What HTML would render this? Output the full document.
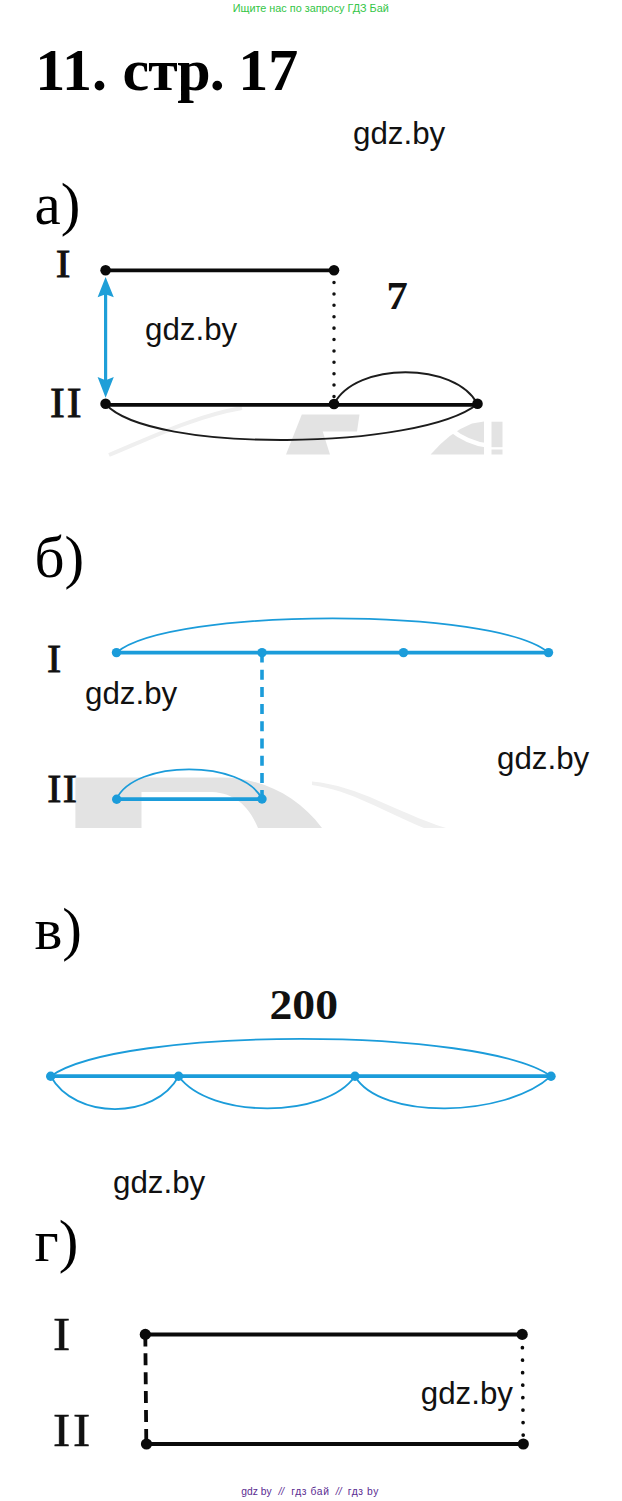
<!DOCTYPE html>
<html><head><meta charset="utf-8">
<style>
html,body{margin:0;padding:0;background:#fff;}
body{width:622px;height:1501px;position:relative;overflow:hidden;font-family:"Liberation Sans",sans-serif;}
.t{position:absolute;white-space:nowrap;line-height:1;margin:0;}
.hdr{font-size:10.85px;color:#33c546;left:232.7px;top:2.6px;}
.ftr{font-size:10.3px;color:#5a2b91;top:1486.5px;}
.h1{font-family:"Liberation Serif",serif;font-weight:bold;font-size:60px;color:#000;left:36px;top:39.5px;}
.sec{font-family:"Liberation Serif",serif;font-size:59px;color:#000;left:34.5px;}
.wm{font-size:31.3px;color:#111;}
svg{position:absolute;left:0;top:0;}
.lb{font-family:"Liberation Serif",serif;font-weight:bold;fill:#111;}
.ls{font-family:"Liberation Serif",serif;fill:#111;stroke:#111;stroke-width:0.85px;}
</style></head><body>
<div class="t hdr">Ищите нас по запросу ГДЗ Бай</div>
<div class="t h1" style="left:35.2px;">11.</div><div class="t h1" style="left:122.5px;letter-spacing:-1px;">стр.</div><div class="t h1" style="left:238.3px;">17</div>
<div class="t wm" style="left:353px;top:118px;">gdz.by</div>
<div class="t sec" style="top:174.6px;">а)</div>
<div class="t sec" style="top:527.5px;">б)</div>
<div class="t sec" style="top:899.5px;">в)</div>
<div class="t sec" style="top:1211.5px;">г)</div>
<div class="t wm" style="left:145px;top:314px;">gdz.by</div>
<div class="t wm" style="left:85px;top:678px;">gdz.by</div>
<div class="t wm" style="left:497px;top:743px;">gdz.by</div>
<div class="t wm" style="left:113px;top:1167px;">gdz.by</div>
<div class="t wm" style="left:420.8px;top:1378px;">gdz.by</div>
<div class="t ftr" style="left:241.2px">gdz by</div><div class="t ftr" style="left:278.4px;font-style:italic">//</div><div class="t ftr" style="left:291.3px;letter-spacing:0.6px">гдз бай</div><div class="t ftr" style="left:335.8px;font-style:italic">//</div><div class="t ftr" style="left:347.8px;letter-spacing:0.55px">гдз by</div>
<svg width="622" height="1501" viewBox="0 0 622 1501">
<!-- A -->
<g id="A">
<!-- watermark -->
<path d="M109 455 C150 438 195 416 242 408" fill="none" stroke="#efefef" stroke-width="4"/>
<g fill="#e3e3e3">
<path d="M286 454.5 L301.8 414.6 L359.5 414.6 L357 431.4 L322.7 431.4 L330 454.5 Z"/>
<path d="M430.6 454.5 Q450 432 472 423.5 L484 421.5 L484 454.5 Z"/>
<rect x="491.5" y="421.7" width="11" height="25.5"/>
<rect x="491.5" y="449.5" width="11" height="5"/>
</g>
<path d="M450 429 Q468 443.5 488 445.5" fill="none" stroke="#fff" stroke-width="4.5"/>
<path d="M105.5 404 C150 454 420 450 477.5 404" fill="none" stroke="#1c1c1c" stroke-width="1.9"/>
<path d="M334 404 C356 361.6 455 361.6 477.5 404" fill="none" stroke="#1c1c1c" stroke-width="1.9"/>
<line x1="105.5" y1="270.4" x2="334" y2="270.4" stroke="#0a0a0a" stroke-width="3.8"/>
<line x1="105.5" y1="404.8" x2="477.5" y2="404.8" stroke="#0a0a0a" stroke-width="3.8"/>
<line x1="334" y1="282.6" x2="334" y2="398" stroke="#111" stroke-width="3.5" stroke-linecap="round" stroke-dasharray="0.01 11.37" />
<line x1="105.6" y1="290" x2="105.6" y2="385" stroke="#1f9fd8" stroke-width="3.2"/>
<path d="M105.6 277 L113.8 297.3 L105.6 294.2 L97.6 297.3 Z" fill="#1f9fd8"/>
<path d="M105.6 397.8 L113.8 377 L105.6 380.2 L97.6 377 Z" fill="#1f9fd8"/>
<circle cx="105.6" cy="270.3" r="5.3" fill="#0a0a0a"/>
<circle cx="334" cy="270.3" r="5.3" fill="#0a0a0a"/>
<circle cx="105.6" cy="403.8" r="5.3" fill="#0a0a0a"/>
<circle cx="334" cy="404" r="5.3" fill="#0a0a0a"/>
<circle cx="477.5" cy="403.8" r="5.3" fill="#0a0a0a"/>
<text class="ls" transform="translate(55.8 276.8) scale(1.08 1)" font-size="40.9">I</text>
<text class="ls" transform="translate(49.9 417.2) scale(1.08 1)" font-size="41.2" letter-spacing="2">II</text>
<text class="lb" transform="translate(386.6 309) scale(1.04 1)" font-size="41">7</text>
</g>
<g id="B">
<!-- watermark -->
<path d="M75.4 828 L75.4 777.6 L222 777.6 C262 778 298 796 322 828 L258 828 C250 808 236 793 212 792 L141.5 792 L141.5 828 Z" fill="#e3e3e3"/>
<path d="M312 781.5 C360 786 395 812 446 828 L424 828 C385 812 350 790 312 785 Z" fill="#f0f0f0"/>
<path d="M116.5 652.6 C170 607 495 607 548.5 652.6" fill="none" stroke="#1b9cda" stroke-width="1.8"/>
<path d="M116.5 799 C135 759.5 243 759.5 262 799" fill="none" stroke="#1b9cda" stroke-width="1.8"/>
<line x1="116.5" y1="652.7" x2="548.5" y2="652.7" stroke="#1b9cda" stroke-width="3.7"/>
<line x1="116.5" y1="799.1" x2="262" y2="799.1" stroke="#1b9cda" stroke-width="3.7"/>
<line x1="262" y1="652.5" x2="262" y2="799" stroke="#1b9cda" stroke-width="3.6" stroke-dasharray="10 7.2"/>
<circle cx="116.5" cy="652.6" r="4.7" fill="#1b9cda"/>
<circle cx="262" cy="652.6" r="4.7" fill="#1b9cda"/>
<circle cx="403.5" cy="652.6" r="4.7" fill="#1b9cda"/>
<circle cx="548.5" cy="652.6" r="4.7" fill="#1b9cda"/>
<circle cx="116.7" cy="799.2" r="4.7" fill="#1b9cda"/>
<circle cx="262" cy="799" r="4.7" fill="#1b9cda"/>
<text class="ls" transform="translate(47.1 671.9) scale(1.08 1)" font-size="39.5">I</text>
<text class="ls" transform="translate(47.2 801.5) scale(1.08 1)" font-size="39.3" letter-spacing="1.3">II</text>
</g>
<g id="C">
<path d="M50.7 1076.2 C120 1026.5 482 1026.5 551 1076.2" fill="none" stroke="#1b9cda" stroke-width="1.8"/>
<path d="M50.7 1076.2 C75 1120 155 1120 178.6 1076.2" fill="none" stroke="#1b9cda" stroke-width="1.8"/>
<path d="M178.6 1076.2 C210 1119 325 1119 355 1076.2" fill="none" stroke="#1b9cda" stroke-width="1.8"/>
<path d="M355 1076.2 C380 1120 505 1118 551 1076.2" fill="none" stroke="#1b9cda" stroke-width="1.8"/>
<line x1="50.7" y1="1076.2" x2="551" y2="1076.2" stroke="#1b9cda" stroke-width="3.7"/>
<circle cx="50.7" cy="1076.2" r="4.7" fill="#1b9cda"/>
<circle cx="178.6" cy="1076.2" r="4.7" fill="#1b9cda"/>
<circle cx="355" cy="1076.2" r="4.7" fill="#1b9cda"/>
<circle cx="551" cy="1076.2" r="4.7" fill="#1b9cda"/>
<text class="lb" x="269.5" y="1019.3" font-size="42" textLength="68.5" lengthAdjust="spacingAndGlyphs">200</text>
</g>
<g id="D">
<line x1="145.3" y1="1334.4" x2="522.2" y2="1334.4" stroke="#0a0a0a" stroke-width="4"/>
<line x1="146.5" y1="1444" x2="523.3" y2="1444" stroke="#0a0a0a" stroke-width="4"/>
<line x1="145.3" y1="1334.4" x2="146.3" y2="1444" stroke="#0a0a0a" stroke-width="3.8" stroke-dasharray="12 6.9"/>
<line x1="522.4" y1="1347.7" x2="523.2" y2="1436" stroke="#0a0a0a" stroke-width="3.7" stroke-linecap="round" stroke-dasharray="0.01 12.47"/>
<circle cx="145.3" cy="1334.4" r="5.6" fill="#0a0a0a"/>
<circle cx="522.2" cy="1334.4" r="5.6" fill="#0a0a0a"/>
<circle cx="146.5" cy="1444" r="5.6" fill="#0a0a0a"/>
<circle cx="523.3" cy="1444" r="5.6" fill="#0a0a0a"/>
<text class="ls" style="stroke-width:0.6px" transform="translate(53 1350.4) scale(1.1 1)" font-size="46.8">I</text>
<text class="ls" style="stroke-width:0.6px" transform="translate(53 1445.6) scale(1.1 1)" font-size="46.8" letter-spacing="2.6">II</text>
</g>
</svg>
</body></html>
